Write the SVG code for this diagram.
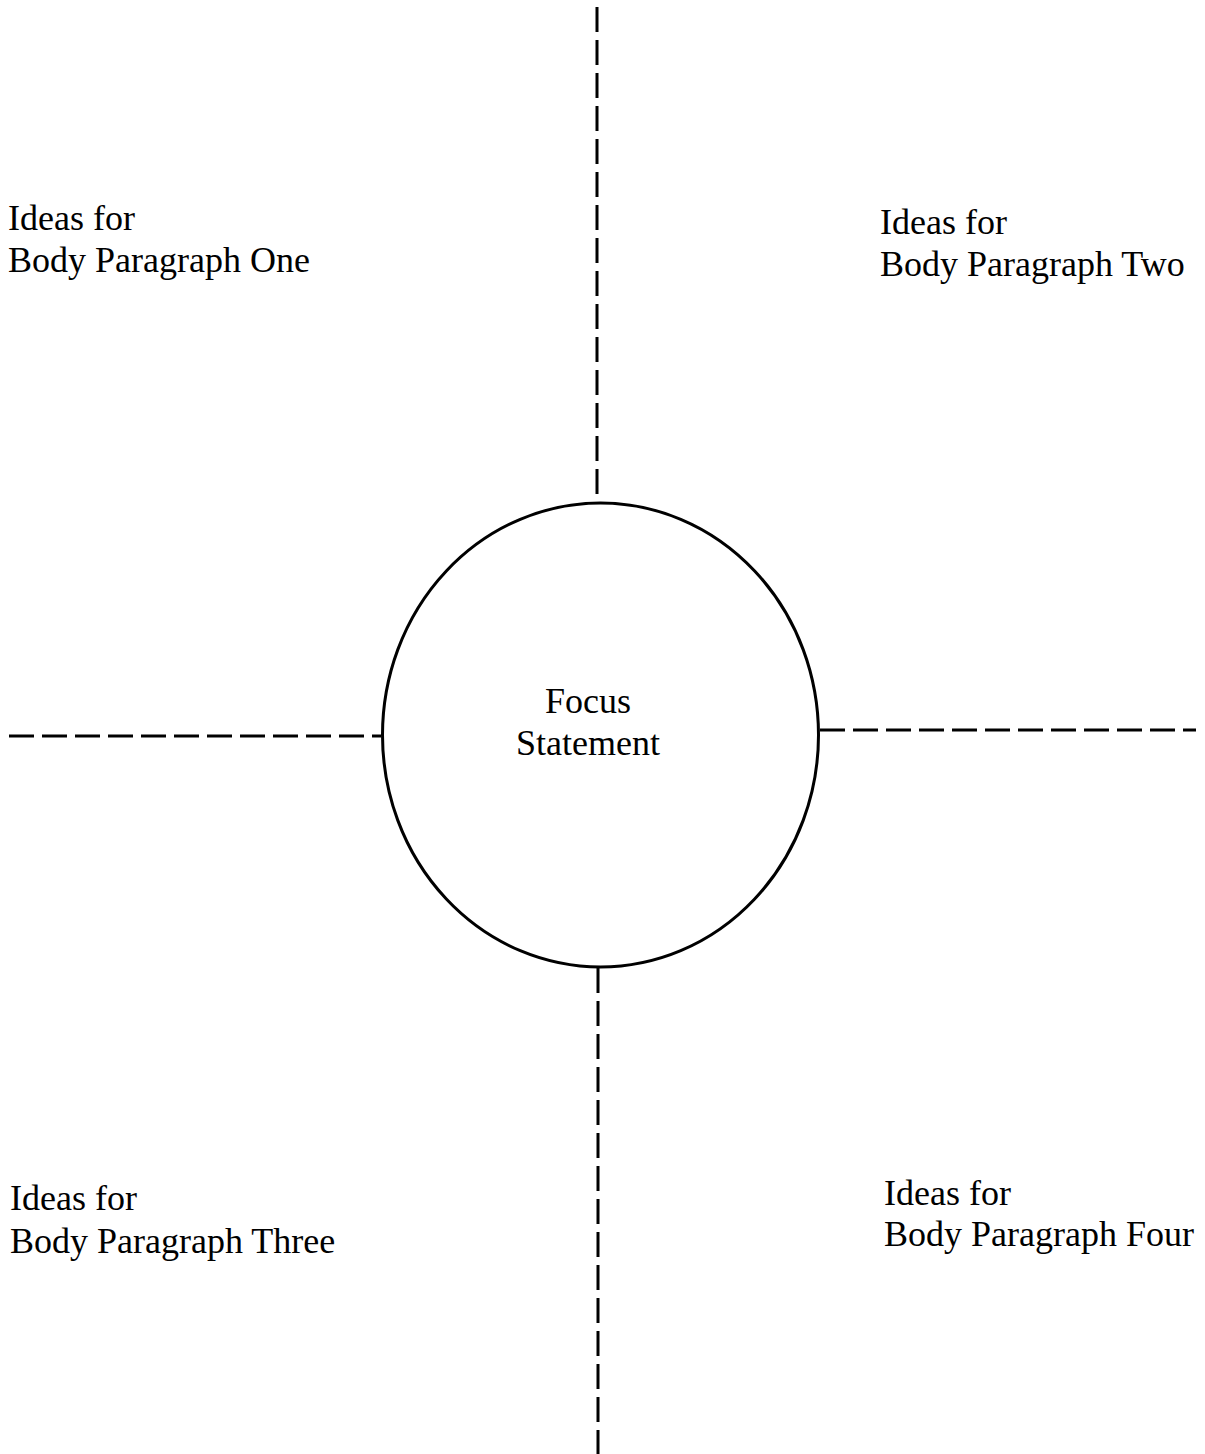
<svg xmlns="http://www.w3.org/2000/svg" width="1205" height="1454" viewBox="0 0 1205 1454">
<style>
.lbl{font-family:"Liberation Serif","Times New Roman",serif;font-size:36px;fill:#000}
.dash{stroke:#000;stroke-width:3;stroke-dasharray:25 8;fill:none}
.node{fill:#fff;stroke:#000;stroke-width:3}
</style>
<rect width="1205" height="1454" fill="#fff"/>
<g id="connectors">
<line class="dash" x1="597" y1="7" x2="597" y2="498"/>
<line class="dash" x1="598" y1="968" x2="598" y2="1454"/>
<line class="dash" x1="9" y1="736" x2="381" y2="736"/>
<line class="dash" x1="820" y1="730" x2="1196" y2="730"/>
</g>
<g id="focus">
<ellipse class="node" cx="600.5" cy="735" rx="218" ry="232"/>
<text class="lbl" x="588" y="713" text-anchor="middle">Focus</text>
<text class="lbl" x="588" y="755" text-anchor="middle">Statement</text>
</g>
<g id="para1">
<text class="lbl" x="8" y="230">Ideas for</text>
<text class="lbl" x="8" y="272">Body Paragraph One</text>
</g>
<g id="para2">
<text class="lbl" x="880" y="234">Ideas for</text>
<text class="lbl" x="880" y="276">Body Paragraph Two</text>
</g>
<g id="para3">
<text class="lbl" x="10" y="1210">Ideas for</text>
<text class="lbl" x="10" y="1253">Body Paragraph Three</text>
</g>
<g id="para4">
<text class="lbl" x="884" y="1205">Ideas for</text>
<text class="lbl" x="884" y="1246">Body Paragraph Four</text>
</g>
</svg>
